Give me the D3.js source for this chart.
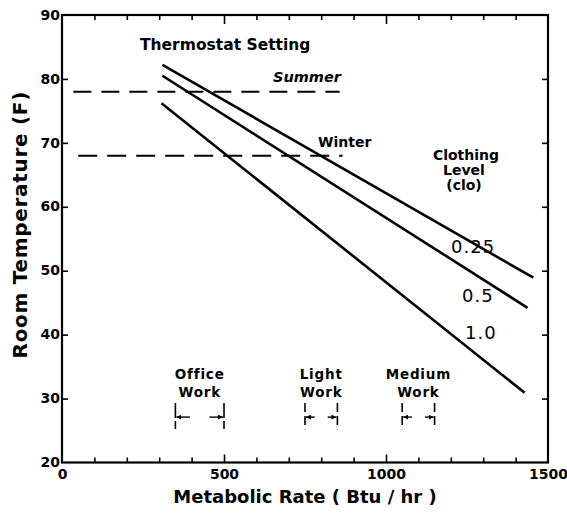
<!DOCTYPE html>
<html>
<head>
<meta charset="utf-8">
<script src="https://cdn.jsdelivr.net/npm/d3@7"></script>
<style>
  html, body { margin: 0; padding: 0; background: #fff; }
  svg { display: block; }
  text { font-family: "DejaVu Sans", sans-serif; fill: #000; }
</style>
</head>
<body>
<svg id="chart" width="567" height="515"></svg>
<script>
// ---------------- data ----------------
const xTickLabels = [0, 500, 1000, 1500];
const xMinorTicks = [100, 200, 300, 400, 500, 600, 700, 800, 900, 1000, 1100, 1200, 1300, 1400];
const xLongTicks = [500, 1000];
const yTickLabels = [20, 30, 40, 50, 60, 70, 80, 90];
const yMinorTicks = [30, 40, 50, 60, 70, 80];

// clothing-level curves: metabolic rate (Btu/hr) -> room temperature (F)
const cloLevels = ["0.25", "0.5", "1.0"];
const clo025 = [[310, 82.2], [1455, 48.9]];
const clo050 = [[310, 80.5], [1437, 44.2]];
const clo100 = [[307, 76.2], [1428, 30.9]];
const cloSeries = [clo025, clo050, clo100];

// thermostat settings
const seasons = ["Summer", "Winter"];
const seasonTemps = [78, 68];
const seasonStart = [35, 50];
const seasonEnd = [857, 866];

// activity ranges (Btu/hr)
const activities = ["Office", "Light", "Medium"];
const activityMin = [350, 750, 1050];
const activityMax = [500, 850, 1150];

// ---------------- drawing ----------------
const svg = d3.select("#chart");
const x = d3.scaleLinear().domain([0, 1500]).range([62, 548]);
const y = d3.scaleLinear().domain([20, 90]).range([462.5, 15]);

// frame
svg.append("rect")
  .attr("x", x(0)).attr("y", y(90))
  .attr("width", x(1500) - x(0)).attr("height", y(20) - y(90))
  .attr("fill", "none").attr("stroke", "#000").attr("stroke-width", 2.2);

// bottom minor ticks (inward)
svg.append("g").attr("transform", `translate(0,${y(20)})`)
  .call(d3.axisBottom(x).tickValues(xMinorTicks).tickFormat(""))
  .call(g => g.select(".domain").remove())
  .call(g => g.selectAll(".tick line")
    .attr("y2", d => xLongTicks.includes(d) ? -8 : -5)
    .attr("stroke-width", 1.6));
// top minor ticks (inward)
svg.append("g").attr("transform", `translate(0,${y(90)})`)
  .call(d3.axisTop(x).tickValues(xMinorTicks).tickFormat(""))
  .call(g => g.select(".domain").remove())
  .call(g => g.selectAll(".tick line")
    .attr("y2", d => xLongTicks.includes(d) ? 9 : 5)
    .attr("stroke-width", 1.6));
// left ticks
svg.append("g").attr("transform", `translate(${x(0)},0)`)
  .call(d3.axisLeft(y).tickValues(yMinorTicks).tickFormat(""))
  .call(g => g.select(".domain").remove())
  .call(g => g.selectAll(".tick line").attr("x2", 6).attr("stroke-width", 1.6));
// right ticks
svg.append("g").attr("transform", `translate(${x(1500)},0)`)
  .call(d3.axisRight(y).tickValues(yMinorTicks).tickFormat(""))
  .call(g => g.select(".domain").remove())
  .call(g => g.selectAll(".tick line").attr("x2", -6).attr("stroke-width", 1.6));

// x tick labels
svg.append("g").attr("transform", `translate(0,${y(20)})`)
  .call(d3.axisBottom(x).tickValues(xTickLabels).tickSize(0).tickPadding(0).tickFormat(d3.format("d")))
  .call(g => g.select(".domain").remove())
  .call(g => g.selectAll(".tick text")
    .attr("y", 16.5).attr("dy", 0)
    .style("font-family", "DejaVu Sans").style("font-size", "14px").style("font-weight", "bold"));

// y tick labels
svg.append("g").attr("transform", `translate(${x(0)},0)`)
  .call(d3.axisLeft(y).tickValues(yTickLabels).tickSize(0).tickPadding(2))
  .call(g => g.select(".domain").remove())
  .call(g => g.selectAll(".tick text")
    .attr("dy", "0.3em")
    .style("font-family", "DejaVu Sans").style("font-size", "14px").style("font-weight", "bold"));

// axis titles
svg.append("text")
  .attr("x", (x(0) + x(1500)) / 2).attr("y", 503)
  .attr("text-anchor", "middle")
  .style("font-size", "18px").style("font-weight", "bold")
  .text("Metabolic Rate ( Btu / hr )");
svg.append("text")
  .attr("transform", `translate(27,${y(55) - 14}) rotate(-90)`)
  .attr("text-anchor", "middle")
  .style("font-size", "20px").style("font-weight", "bold").style("letter-spacing", "0.7px")
  .text("Room Temperature (F)");

// thermostat dashed lines
seasons.forEach((s, i) => {
  svg.append("line")
    .attr("x1", x(seasonStart[i])).attr("x2", x(seasonEnd[i]))
    .attr("y1", y(seasonTemps[i])).attr("y2", y(seasonTemps[i]))
    .attr("stroke", "#000").attr("stroke-width", 2)
    .attr("stroke-dasharray", i === 0 ? "18,10" : "19,10");
});

// clothing curves
const line = d3.line().x(d => x(d[0])).y(d => y(d[1]));
svg.selectAll("path.clo").data(cloSeries).join("path")
  .attr("class", "clo")
  .attr("d", line)
  .attr("fill", "none").attr("stroke", "#000").attr("stroke-width", 2.6);

// annotation texts
svg.append("text").attr("x", 140).attr("y", 50)
  .style("font-size", "15.5px").style("font-weight", "bold")
  .text("Thermostat Setting");
svg.append("text").attr("x", 273).attr("y", 82)
  .style("font-size", "14.5px").style("font-weight", "bold").style("font-style", "italic")
  .text(seasons[0]);
svg.append("text").attr("x", 318).attr("y", 147)
  .style("font-size", "14px").style("font-weight", "bold")
  .text(seasons[1]);

const clothing = svg.append("text").attr("text-anchor", "middle")
  .style("font-size", "14px").style("font-weight", "bold");
clothing.append("tspan").attr("x", 466).attr("y", 160).text("Clothing");
clothing.append("tspan").attr("x", 464).attr("y", 175).text("Level");
clothing.append("tspan").attr("x", 464).attr("y", 190).text("(clo)");

const cloLabelPos = [[451, 253], [462, 302], [465, 339]];
cloLevels.forEach((c, i) => {
  svg.append("text").attr("x", cloLabelPos[i][0]).attr("y", cloLabelPos[i][1])
    .style("font-size", "18px").style("letter-spacing", "1px")
    .text(c);
});

// activity ranges
svg.append("defs").selectAll("marker").data(["l", "r"]).join("marker")
  .attr("id", d => "arr-" + d)
  .attr("viewBox", "0 0 10 10").attr("refX", 10).attr("refY", 5)
  .attr("markerWidth", 5).attr("markerHeight", 5).attr("markerUnits", "userSpaceOnUse")
  .attr("orient", "auto")
  .append("path").attr("d", "M0,0 L10,5 L0,10 Z").attr("fill", "#000");

activities.forEach((a, i) => {
  const x0 = x(activityMin[i]), x1 = x(activityMax[i]);
  const cx = (x0 + x1) / 2;
  const t = svg.append("text").attr("text-anchor", "middle")
    .style("font-size", "13.5px").style("font-weight", "bold").style("letter-spacing", "0.8px");
  t.append("tspan").attr("x", cx).attr("y", 379).text(a);
  t.append("tspan").attr("x", cx).attr("y", 397).text("Work");
  const yTop = y(29.3), yBot = y(25.2), yArr = y(27.1);
  [x0, x1].forEach(xv => {
    svg.append("line").attr("x1", xv).attr("x2", xv).attr("y1", yTop).attr("y2", yBot)
      .attr("stroke", "#000").attr("stroke-width", 1.6)
      .attr("stroke-dasharray", i === 0 ? "15,3,8" : "9,4");
  });
  const L = Math.min(16, (x1 - x0) * 0.3);
  svg.append("line").attr("x1", x0 + L).attr("x2", x0 + 1).attr("y1", yArr).attr("y2", yArr)
    .attr("stroke", "#000").attr("stroke-width", 1.4).attr("marker-end", "url(#arr-l)");
  svg.append("line").attr("x1", x1 - L).attr("x2", x1 - 1).attr("y1", yArr).attr("y2", yArr)
    .attr("stroke", "#000").attr("stroke-width", 1.4).attr("marker-end", "url(#arr-r)");
});
</script>
</body>
</html>
